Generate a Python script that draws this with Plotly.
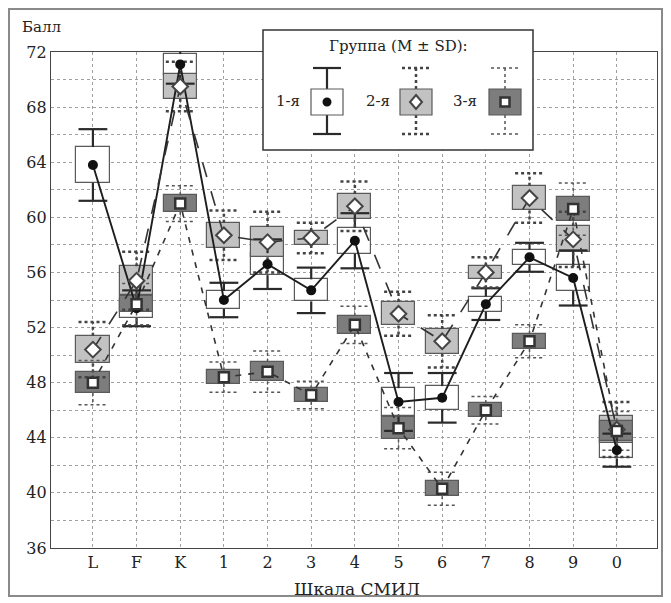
import plotly.graph_objects as go

categories = ['L', 'F', 'K', '1', '2', '3', '4', '5', '6', '7', '8', '9', '0']
y_ticks = [36, 40, 44, 48, 52, 56, 60, 64, 68, 72]

g1_mean = [63.8, 53.4, 71.1, 54.0, 56.6, 54.7, 58.3, 46.6, 46.9, 53.7, 57.1, 55.6, 43.1]
g1_se = [1.3, 0.7, 0.75, 0.65, 0.8, 0.8, 0.95, 1.0, 0.85, 0.55, 0.55, 0.95, 0.6]
g1_sd = [2.6, 1.3, 1.4, 1.25, 1.8, 1.65, 2.0, 2.1, 1.8, 1.15, 1.05, 2.0, 1.2]

g2_mean = [50.4, 55.4, 69.5, 58.7, 58.2, 58.5, 60.8, 53.0, 51.0, 56.0, 61.4, 58.4, 44.6]
g2_se = [1.0, 1.05, 0.9, 0.9, 1.1, 0.5, 0.9, 0.85, 0.9, 0.5, 0.9, 0.95, 1.0]
g2_sd = [2.0, 2.1, 1.8, 1.8, 2.2, 1.1, 1.8, 1.6, 1.9, 1.1, 1.8, 2.0, 2.0]

g3_mean = [48.0, 53.7, 61.0, 48.4, 48.8, 47.1, 52.2, 44.7, 40.3, 46.0, 51.0, 60.6, 44.5]
g3_se = [0.75, 0.6, 0.6, 0.5, 0.7, 0.5, 0.65, 0.8, 0.55, 0.5, 0.55, 0.9, 0.7]
g3_sd = [1.6, 1.5, 1.3, 1.1, 1.5, 1.0, 1.35, 1.5, 1.2, 1.0, 1.2, 1.9, 1.4]

group_names = ['1-я', '2-я', '3-я']

SERIF = 'DejaVu Serif, serif'
OFF = 8  # default page body margin
W, H = 663, 595
ML, MT = 51 - OFF, 52 - OFF
MR = W - (657 - OFF)
MB = H - (548 - OFF)
PW, PH = W - ML - MR, H - MT - MB

xs = list(range(len(categories)))
BOXW = 0.76
CAPW = 0.66

styles = [
    dict(fill='#ffffff', mk=dict(symbol='circle', size=10, color='#111111', line=dict(width=0)),
         wl=dict(color='#2a2a2a', width=2.2), line=dict(color='#1e1e1e', width=1.9, dash='solid')),
    dict(fill='#c2c2c2', mk=dict(symbol='diamond', size=12, color='#ffffff', line=dict(color='#444444', width=2)),
         wl=dict(color='#444444', width=2.5, dash='dot'), line=dict(color='#333333', width=1.6, dash='longdash')),
    dict(fill='#7d7d7d', mk=dict(symbol='square', size=10, color='#ffffff', line=dict(color='#333333', width=2.5)),
         wl=dict(color='#555555', width=1.5, dash='dot'), line=dict(color='#333333', width=1.6, dash='6px,7px')),
]

groups = [(g1_mean, g1_se, g1_sd), (g2_mean, g2_se, g2_sd), (g3_mean, g3_se, g3_sd)]

fig = go.Figure()

# boxes: mean +- SE
for (m, se, sd), st, nm in zip(groups, styles, group_names):
    fig.add_trace(go.Bar(
        x=xs, y=[2 * s for s in se], base=[a - s for a, s in zip(m, se)],
        width=BOXW, marker=dict(color=st['fill'], line=dict(color='#5a5a5a', width=1.2)),
        name=nm, showlegend=False, hoverinfo='skip'))

# whiskers: mean +- SD
for (m, se, sd), st in zip(groups, styles):
    wx, wy = [], []
    for x, a, s, d in zip(xs, m, se, sd):
        wx += [x, x, None, x, x, None, x - CAPW / 2, x + CAPW / 2, None, x - CAPW / 2, x + CAPW / 2, None]
        wy += [a + s, a + d, None, a - s, a - d, None, a + d, a + d, None, a - d, a - d, None]
    fig.add_trace(go.Scatter(x=wx, y=wy, mode='lines', line=st['wl'], showlegend=False,
                             hoverinfo='skip', connectgaps=False))

# mean lines
for (m, se, sd), st in zip(groups, styles):
    fig.add_trace(go.Scatter(x=xs, y=m, mode='lines', line=st['line'], showlegend=False))

# mean markers
for (m, se, sd), st, nm in zip(groups, styles, group_names):
    fig.add_trace(go.Scatter(x=xs, y=m, mode='markers', marker=st['mk'], name=nm, showlegend=False))


def px(x):
    return (x - OFF - ML) / PW


def py(y):
    return (H - MB - (y - OFF)) / PH


shapes = []
annotations = []


def text(t, x, y, size=15, xa='center'):
    annotations.append(dict(text=t, xref='paper', yref='paper', x=px(x), y=py(y), xanchor=xa,
                            yanchor='middle', showarrow=False,
                            font=dict(family=SERIF, size=size, color='#222222')))


# outer frame
shapes.append(dict(type='rect', xref='paper', yref='paper', x0=px(9), x1=px(662), y0=py(596), y1=py(9),
                   line=dict(color='#8a8a8a', width=2), fillcolor='rgba(0,0,0,0)', layer='below'))

# legend box
shapes.append(dict(type='rect', xref='paper', yref='paper', x0=px(263), x1=px(533), y0=py(150), y1=py(30),
                   line=dict(color='#333333', width=1.5), fillcolor='#ffffff', layer='above'))
text('Группа (M ± SD):', 398, 46, 15)

leg_items = [(288, 327), (378, 416), (465, 505)]
for (lx, cx), st, nm in zip(leg_items, styles, group_names):
    text(nm, lx, 101, 15)
    wl = st['wl']
    ld = dict(color=wl['color'], width=wl['width'], dash=wl.get('dash', 'solid'))
    for (y0, y1) in [(68, 89), (115, 134)]:
        shapes.append(dict(type='line', xref='paper', yref='paper', x0=px(cx), x1=px(cx), y0=py(y0), y1=py(y1),
                           line=ld, layer='above'))
    for yc in [68, 134]:
        shapes.append(dict(type='line', xref='paper', yref='paper', x0=px(cx - 14), x1=px(cx + 14), y0=py(yc),
                           y1=py(yc), line=ld, layer='above'))
    shapes.append(dict(type='rect', xref='paper', yref='paper', x0=px(cx - 16), x1=px(cx + 16), y0=py(115),
                       y1=py(89), fillcolor=st['fill'], line=dict(color='#5a5a5a', width=1.2), layer='above'))

# legend markers
shapes.append(dict(type='circle', xref='paper', yref='paper', x0=px(327 - 4.5), x1=px(327 + 4.5),
                   y0=py(102 + 4.5), y1=py(102 - 4.5), fillcolor='#111111', line=dict(width=0), layer='above'))
shapes.append(dict(type='path', xref='paper', yref='paper',
                   path='M {a},{b} L {c},{d} L {a},{e} L {f},{d} Z'.format(
                       a=px(416), b=py(95), c=px(422), d=py(102), e=py(109), f=px(410)),
                   fillcolor='#ffffff', line=dict(color='#444444', width=2), layer='above'))
shapes.append(dict(type='rect', xref='paper', yref='paper', x0=px(505 - 4.5), x1=px(505 + 4.5),
                   y0=py(102 + 4.5), y1=py(102 - 4.5), fillcolor='#ffffff',
                   line=dict(color='#333333', width=2.5), layer='above'))

text('Балл', 20, 27, 15, xa='left')
text('Шкала СМИЛ', 357, 589, 17)

fig.update_layout(
    width=W, height=H, margin=dict(l=ML, r=MR, t=MT, b=MB, autoexpand=False),
    paper_bgcolor='#ffffff', plot_bgcolor='#ffffff', barmode='overlay', bargap=0,
    showlegend=False, shapes=shapes, annotations=annotations,
    font=dict(family=SERIF, color='#222222'),
)
fig.update_xaxes(range=[-0.96, 12.92], tickmode='array', tickvals=xs, ticktext=categories,
                 showgrid=True, gridcolor='#a0a0a0', griddash='dot', gridwidth=1,
                 showline=True, linecolor='#444444', linewidth=1.2, mirror=True, ticks='',
                 tickfont=dict(family=SERIF, size=16, color='#222222'), zeroline=False)
fig.update_yaxes(range=[36, 72], tickmode='array', tickvals=y_ticks,
                 showgrid=True, gridcolor='#a0a0a0', griddash='dot', gridwidth=1,
                 minor=dict(dtick=2, tick0=36, showgrid=True, gridcolor='#a0a0a0', griddash='dot'),
                 showline=True, linecolor='#444444', linewidth=1.2, mirror=True, ticks='',
                 tickfont=dict(family=SERIF, size=16, color='#222222'), zeroline=False)

fig.write_html('out.html')
